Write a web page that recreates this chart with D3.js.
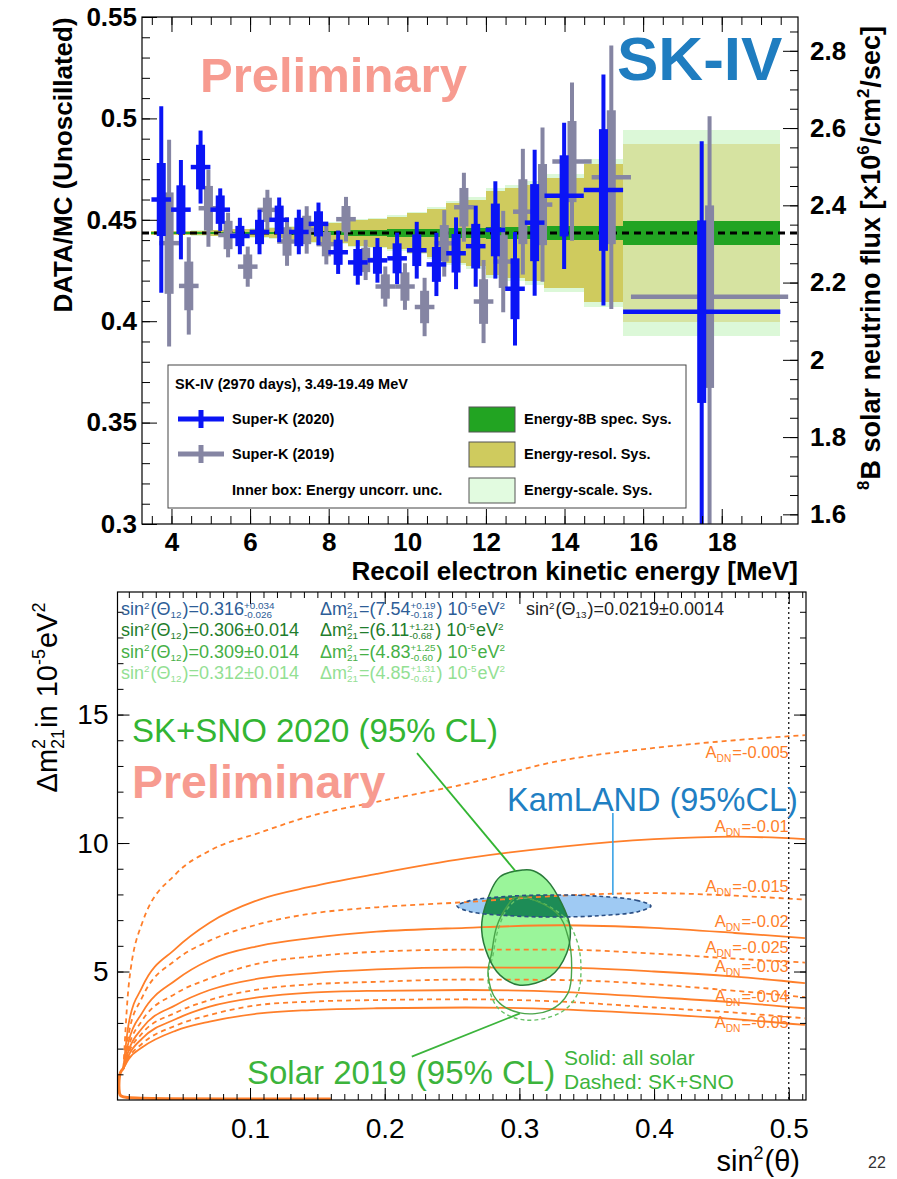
<!DOCTYPE html>
<html lang="en">
<head>
<meta charset="UTF-8">
<title>SK-IV spectrum and solar oscillation contours</title>
<style>
  body { margin: 0; background: #fff; }
  svg { display: block; font-family: "Liberation Sans", Arial, Helvetica, sans-serif; }
</style>
</head>
<body>
<div id="chart"></div>
<script src="https://d3js.org/d3.v7.min.js"></script>
<script>
// ---------- top panel: DATA/MC per recoil energy bin ----------
const binLo = [3.49,3.99,4.49,4.99,5.49,5.99,6.49,6.99,7.49,7.99,8.49,8.99,9.49,9.99,10.49,10.99,11.49,11.99,12.49,12.99,13.49,14.49,15.49];
const binHi = [3.99,4.49,4.99,5.49,5.99,6.49,6.99,7.49,7.99,8.49,8.99,9.49,9.99,10.49,10.99,11.49,11.99,12.49,12.99,13.49,14.49,15.49,19.49];

const sk2020      = [0.460,0.455,0.476,0.455,0.442,0.444,0.450,0.444,0.448,0.434,0.429,0.430,0.431,0.435,0.428,0.4335,0.437,0.445,0.416,0.4486,0.4618,0.4647,0.4047];
const sk2020ErrUp = [0.046,0.0245,0.018,0.0105,0.009,0.011,0.011,0.011,0.0105,0.0107,0.011,0.011,0.0127,0.014,0.0156,0.0177,0.020,0.024,0.028,0.036,0.036,0.057,0.084];
const sk2020ErrDn = [0.046,0.0245,0.018,0.0105,0.009,0.011,0.011,0.011,0.0105,0.0107,0.011,0.011,0.0127,0.014,0.0156,0.0177,0.020,0.024,0.028,0.036,0.036,0.057,0.105];
const sk2020Inner = [0.018,0.012,0.011,0.007,0.005,0.006,0.007,0.007,0.0062,0.0062,0.0066,0.0066,0.0074,0.0078,0.0086,0.0095,0.011,0.013,0.015,0.019,0.020,0.030,0.045];

const sk2019      = [0.4385,0.4174,0.4557,0.4425,0.4269,0.4549,0.4393,0.4450,0.438,0.4503,0.4302,0.4171,0.4171,0.407,0.4384,0.4562,0.4097,0.4294,0.454,0.4575,0.4787,0.471,0.4121];
const sk2019ErrUp = [0.051,0.024,0.019,0.011,0.0099,0.0099,0.012,0.0117,0.010,0.011,0.0099,0.0099,0.0115,0.0144,0.0164,0.017,0.0205,0.025,0.031,0.038,0.039,0.065,0.089];
const sk2019ErrDn = [0.051,0.024,0.019,0.011,0.0099,0.0099,0.012,0.0117,0.010,0.011,0.0099,0.0099,0.0115,0.0144,0.0164,0.017,0.0205,0.025,0.031,0.038,0.039,0.065,0.112];
const sk2019Inner = [0.025,0.012,0.011,0.007,0.006,0.006,0.007,0.007,0.006,0.0065,0.006,0.006,0.007,0.008,0.009,0.0095,0.011,0.013,0.016,0.020,0.020,0.033,0.045];

// systematic bands (half widths around the flat best fit)
const flatFit  = 0.4435;
const specSys  = [0.0005,0.0005,0.0005,0.0005,0.0005,0.0005,0.0007,0.0008,0.001,0.0012,0.0015,0.0017,0.002,0.002,0.0022,0.0025,0.0027,0.003,0.003,0.0032,0.0033,0.0035,0.006];
const resolSys = [0.001,0.001,0.0012,0.0015,0.0018,0.002,0.0025,0.003,0.0045,0.005,0.0064,0.0069,0.008,0.0097,0.012,0.0146,0.0163,0.0205,0.022,0.0237,0.027,0.034,0.044];
const scaleSys = [0.0012,0.0012,0.0014,0.0017,0.002,0.0023,0.0028,0.0033,0.005,0.0055,0.007,0.0076,0.0088,0.0105,0.013,0.0158,0.0176,0.022,0.0238,0.0256,0.029,0.0365,0.051];

const ratioTicks = [0.3,0.35,0.4,0.45,0.5,0.55];
const fluxTicks  = [1.6,1.8,2.0,2.2,2.4,2.6,2.8];
const energyTicks = [4,6,8,10,12,14,16,18];
const fluxPerRatio = 5.25;

// ---------- bottom panel: A_DN iso-lines and contours ----------
const adnValues = ['-0.005','-0.01','-0.015','-0.02','-0.025','-0.03','-0.035','-0.04','-0.045','-0.05'];
const adnDashed = [true,false,true,false,true,false,true,false,true,false];
const adnS = [0.006,0.01,0.02,0.045,0.07,0.107,0.145,0.194,0.26,0.33,0.4,0.46,0.512];
const adnDm2 = [
  [1.23,4.5,6.9,8.8,9.7,10.4,11.05,11.6,12.3,13.2,13.7,14.0,14.2],
  [1.23,3.0,4.4,5.9,6.9,7.8,8.3,8.8,9.4,9.85,10.15,10.25,10.15],
  [1.23,2.6,4.0,5.45,6.2,6.85,7.25,7.5,7.7,7.95,8.05,7.95,7.8],
  [1.23,2.3,3.4,4.67,5.45,6.0,6.3,6.55,6.7,6.8,6.7,6.5,6.3],
  [1.23,2.1,3.1,4.15,4.73,5.32,5.58,5.77,5.85,5.85,5.7,5.5,5.35],
  [1.23,1.95,2.8,3.7,4.28,4.73,4.93,5.08,5.16,5.15,5.0,4.8,4.55],
  [1.23,1.85,2.6,3.4,3.89,4.31,4.5,4.6,4.69,4.67,4.5,4.25,4.0],
  [1.23,1.75,2.4,3.15,3.63,4.0,4.18,4.25,4.28,4.21,4.0,3.8,3.57],
  [1.23,1.65,2.2,2.9,3.31,3.7,3.83,3.89,3.92,3.83,3.6,3.4,3.18],
  [1.23,1.6,2.05,2.7,3.05,3.37,3.5,3.57,3.6,3.53,3.35,3.15,2.92]
];
const adnLabels   = ['-0.005','-0.01','-0.015','-0.02','-0.025','-0.03','-0.04','-0.05'];
const adnLabelDm2 = [13.31,10.43,8.09,6.73,5.72,4.98,3.81,2.80];
const tailS   = [0.006,0.0035,0.0026,0.0026,0.005,0.03,0.1,0.16];
const tailDm2 = [1.23,1.1,0.8,0.2,0.08,0.05,0.04,0.04];

const kamS   = [0.3977,0.388,0.3617,0.3257,0.2897,0.2634,0.2537,0.2634,0.2897,0.3257,0.3617,0.388];
const kamDm2 = [7.55,7.76,7.92,7.98,7.92,7.76,7.55,7.33,7.18,7.12,7.18,7.33];
const sno2020S   = [0.3029,0.2856,0.2745,0.272,0.2769,0.2856,0.3004,0.3227,0.3351,0.3376,0.3314,0.3203,0.3103];
const sno2020Dm2 = [8.95,8.69,7.52,6.61,5.58,4.86,4.47,4.80,5.71,6.74,7.65,8.56,8.92];
const solarAllS   = [0.298,0.3277,0.3361,0.3388,0.3361,0.3227,0.3004,0.2831,0.2767,0.2794,0.2831,0.2906];
const solarAllDm2 = [7.91,7.28,6.36,5.19,4.16,3.5,3.39,3.89,4.94,5.72,6.74,7.52];
const solarSnoS   = [0.3019,0.3316,0.3425,0.3457,0.3428,0.3301,0.3041,0.2841,0.2767,0.2804,0.2841,0.2915];
const solarSnoDm2 = [7.86,7.2,6.23,5.19,4.09,3.39,3.11,3.58,4.67,5.64,6.61,7.47];

const rowSin  = ['0.316','0.306±0.014','0.309±0.014','0.312±0.014'];
const rowDm2  = ['7.54','6.11','4.83','4.85'];
const rowUp   = ['+0.19','+1.21','+1.25','+1.31'];
const rowDn   = ['-0.18','-0.68','-0.60','-0.61'];
const rowColors = ['#2d5d97','#1f7d2c','#46b046','#93e093'];
const sinTicks = [0.1,0.2,0.3,0.4,0.5];
const dmTicks  = [5,10,15];

// ---------- helpers ----------
const W = 897, H = 1179;
const svg = d3.select('#chart').append('svg').attr('width', W).attr('height', H);
svg.append('rect').attr('width', W).attr('height', H).attr('fill', '#fff');

// text made of pieces with super/subscripts; x,y in parent coords
function rich(parent, x, y, parts, o) {
  const g = parent.append('g').attr('fill', o.fill || '#000')
    .attr('font-size', o.size).attr('font-weight', o.weight || 'normal');
  const small = o.size * (o.scr || 0.62);
  const supY = -o.size * (o.supY || 0.42), subY = o.size * (o.subY || 0.24);
  let cx = 0;
  parts.forEach(p => {
    if (typeof p === 'string') {
      const t = g.append('text').attr('x', cx).attr('y', 0).text(p);
      cx += t.node().getComputedTextLength();
    } else {
      let w = 0;
      if (p.sup != null) {
        const t = g.append('text').attr('x', cx).attr('y', supY).attr('font-size', small).text(p.sup);
        w = Math.max(w, t.node().getComputedTextLength());
      }
      if (p.sub != null) {
        const t = g.append('text').attr('x', cx).attr('y', subY).attr('font-size', small).text(p.sub);
        w = Math.max(w, t.node().getComputedTextLength());
      }
      cx += w + 1;
    }
  });
  let dx = 0;
  if (o.anchor === 'end') dx = -cx;
  if (o.anchor === 'middle') dx = -cx / 2;
  g.attr('transform', `translate(${x + dx},${y})`);
  return g;
}

function styleAxis(g, size, weight) {
  g.select('.domain').remove();
  g.selectAll('line').attr('stroke', '#000').attr('stroke-width', 1);
  g.selectAll('text').attr('font-size', size).attr('font-weight', weight)
    .attr('font-family', '"Liberation Sans", Arial, sans-serif').attr('fill', '#000');
}

// ================= TOP PANEL =================
const T = {l: 142, r: 798, t: 17, b: 524};
const xT = d3.scaleLinear().domain([3.25, 19.94]).range([T.l, T.r]);
const yT = d3.scaleLinear().domain([0.3, 0.55]).range([T.b, T.t]);
const yF = d3.scaleLinear().domain([0.3 * fluxPerRatio, 0.55 * fluxPerRatio]).range([T.b, T.t]);

svg.append('clipPath').attr('id', 'clipTop').append('rect')
  .attr('x', T.l).attr('y', T.t).attr('width', T.r - T.l).attr('height', T.b - T.t);
const topG = svg.append('g').attr('clip-path', 'url(#clipTop)');

const bins = d3.range(binLo.length);
function band(arr, color, idx, opacity) {
  topG.append('g').selectAll('rect').data(idx).join('rect')
    .attr('x', i => xT(binLo[i])).attr('width', i => xT(binHi[i]) - xT(binLo[i]))
    .attr('y', i => yT(flatFit + arr[i])).attr('height', i => yT(flatFit - arr[i]) - yT(flatFit + arr[i]))
    .attr('fill', color).attr('fill-opacity', opacity).attr('shape-rendering', 'crispEdges');
}
band(scaleSys, '#dcf8d8', bins, 1);
band(resolSys, '#cfcb5e', bins, 1);
// the wide last bin shows the scale box washed over the resolution box
band(scaleSys, '#dcf8d8', bins.filter(i => binHi[i] - binLo[i] > 2), 0.55);
band(specSys, '#22a422', bins, 1);

topG.append('line').attr('x1', T.l).attr('x2', T.r).attr('y1', yT(flatFit)).attr('y2', yT(flatFit))
  .attr('stroke', '#000').attr('stroke-width', 3).attr('stroke-dasharray', '7,5');

function points(vals, up, dn, inner, shift, color) {
  const g = topG.append('g').attr('fill', color).attr('stroke', color);
  bins.forEach(i => {
    const xc = xT((binLo[i] + binHi[i]) / 2 + shift);
    g.append('line').attr('x1', xc).attr('x2', xc)
      .attr('y1', yT(vals[i] + up[i])).attr('y2', yT(vals[i] - dn[i])).attr('stroke-width', 4);
    g.append('line').attr('x1', xT(binLo[i] + shift)).attr('x2', xT(binHi[i] + shift))
      .attr('y1', yT(vals[i])).attr('y2', yT(vals[i])).attr('stroke-width', 4.5);
    g.append('rect').attr('x', xc - 4.5).attr('width', 9).attr('stroke', 'none')
      .attr('y', yT(vals[i] + inner[i])).attr('height', yT(vals[i] - inner[i]) - yT(vals[i] + inner[i]));
  });
}
points(sk2019, sk2019ErrUp, sk2019ErrDn, sk2019Inner, 0.2, '#8585a3');
points(sk2020, sk2020ErrUp, sk2020ErrDn, sk2020Inner, 0, '#0a14f5');

// frame + ticks
svg.append('rect').attr('x', T.l).attr('y', T.t).attr('width', T.r - T.l).attr('height', T.b - T.t)
  .attr('fill', 'none').attr('stroke', '#000').attr('stroke-width', 1.2);

const minorRatio = d3.range(0.30, 0.5501, 0.01);
styleAxis(svg.append('g').attr('transform', `translate(${T.l},0)`)
  .call(d3.axisLeft(yT).tickValues(minorRatio).tickSize(-8).tickFormat('')), 0, 'bold');
styleAxis(svg.append('g').attr('transform', `translate(${T.l},0)`)
  .call(d3.axisLeft(yT).tickValues(ratioTicks).tickSize(-15).tickPadding(5).tickFormat(d3.format('~g'))), 26, 'bold');

const minorFlux = d3.range(1.6, 2.8876, 0.05);
styleAxis(svg.append('g').attr('transform', `translate(${T.r},0)`)
  .call(d3.axisRight(yF).tickValues(minorFlux).tickSize(-8).tickFormat('')), 0, 'bold');
styleAxis(svg.append('g').attr('transform', `translate(${T.r},0)`)
  .call(d3.axisRight(yF).tickValues(fluxTicks).tickSize(-15).tickPadding(12).tickFormat(d3.format('~g'))), 26, 'bold');

const minorE = d3.range(3.5, 19.91, 0.5);
[T.b, T.t].forEach((yy, k) => {
  const ax = k === 0 ? d3.axisBottom(xT) : d3.axisTop(xT);
  styleAxis(svg.append('g').attr('transform', `translate(0,${yy})`)
    .call(ax.tickValues(minorE).tickSize(-8).tickFormat('')), 0, 'bold');
  const ax2 = k === 0 ? d3.axisBottom(xT) : d3.axisTop(xT);
  styleAxis(svg.append('g').attr('transform', `translate(0,${yy})`)
    .call(ax2.tickValues(energyTicks).tickSize(-15).tickPadding(9)
      .tickFormat(k === 0 ? d3.format('d') : '')), 26, 'bold');
});

svg.append('text').attr('x', T.r).attr('y', 580).attr('text-anchor', 'end')
  .attr('font-size', 26).attr('font-weight', 'bold').text('Recoil electron kinetic energy [MeV]');
svg.append('text').attr('transform', 'translate(72,165) rotate(-90)').attr('text-anchor', 'middle')
  .attr('font-size', 26).attr('font-weight', 'bold').text('DATA/MC (Unoscillated)');
const rLab = svg.append('g').attr('transform', 'translate(880,258) rotate(-90)');
rich(rLab, 0, 0, [{sup: '8'}, 'B solar neutrino flux [×10', {sup: '6'}, ' /cm', {sup: '2'}, '/sec]'],
  {size: 27, weight: 'bold', anchor: 'middle'});

svg.append('text').attr('x', 200).attr('y', 92).attr('font-size', 49).attr('font-weight', 'bold')
  .attr('fill', '#f79b90').text('Preliminary');
svg.append('text').attr('x', 617).attr('y', 80).attr('font-size', 62).attr('font-weight', 'bold')
  .attr('fill', '#1f7dc0').text('SK-IV');

// legend
const lg = svg.append('g');
lg.append('rect').attr('x', 168).attr('y', 365).attr('width', 518).attr('height', 143)
  .attr('fill', '#fff').attr('stroke', '#444').attr('stroke-width', 1);
lg.append('text').attr('x', 175).attr('y', 389).attr('font-size', 14.5).attr('font-weight', 'bold')
  .text('SK-IV (2970 days), 3.49-19.49 MeV');
[[419, '#0a14f5', 'Super-K (2020)'], [454, '#8585a3', 'Super-K (2019)']].forEach(([yy, c, t]) => {
  lg.append('line').attr('x1', 178).attr('x2', 224).attr('y1', yy).attr('y2', yy).attr('stroke', c).attr('stroke-width', 5);
  lg.append('line').attr('x1', 201).attr('x2', 201).attr('y1', yy - 9).attr('y2', yy + 9).attr('stroke', c).attr('stroke-width', 5);
  lg.append('text').attr('x', 232).attr('y', yy + 5).attr('font-size', 14.5).attr('font-weight', 'bold').text(t);
});
lg.append('text').attr('x', 232).attr('y', 495).attr('font-size', 14.5).attr('font-weight', 'bold')
  .text('Inner box: Energy uncorr. unc.');
[[407, '#22a422', 'Energy-8B spec. Sys.'], [442, '#cfcb5e', 'Energy-resol. Sys.'], [478, '#e2fbe0', 'Energy-scale. Sys.']]
  .forEach(([yy, c, t]) => {
    lg.append('rect').attr('x', 469).attr('y', yy).attr('width', 46).attr('height', 25)
      .attr('fill', c).attr('stroke', '#555').attr('stroke-width', 1);
    lg.append('text').attr('x', 524).attr('y', yy + 17).attr('font-size', 14.5).attr('font-weight', 'bold').text(t);
  });

// ================= BOTTOM PANEL =================
const B = {l: 117.5, r: 806, t: 592, b: 1100};
const xB = d3.scaleLinear().domain([0.0016, 0.5128]).range([B.l, B.r]);
const yB = d3.scaleLinear().domain([0, 19.77]).range([B.b, B.t]);

svg.append('clipPath').attr('id', 'clipBot').append('rect')
  .attr('x', B.l).attr('y', B.t).attr('width', B.r - B.l).attr('height', B.b - B.t);
const bot = svg.append('g').attr('clip-path', 'url(#clipBot)');

const closed = d3.line().x(d => xB(d[0])).y(d => yB(d[1])).curve(d3.curveCatmullRomClosed.alpha(0.5));
const open = d3.line().x(d => xB(d[0])).y(d => yB(d[1])).curve(d3.curveMonotoneX);
const zip = (a, b) => a.map((v, i) => [v, b[i]]);

const snoPath = closed(zip(sno2020S, sno2020Dm2));
const kamPath = closed(zip(kamS, kamDm2));
svg.append('clipPath').attr('id', 'clipSno').append('path').attr('d', snoPath);

bot.append('path').attr('d', kamPath).attr('fill', '#9fcaf3');
bot.append('path').attr('d', snoPath).attr('fill', '#9af59a');
bot.append('path').attr('d', kamPath).attr('fill', '#1d8c56').attr('clip-path', 'url(#clipSno)');

// A_DN iso-lines
adnDm2.forEach((row, k) => {
  bot.append('path').attr('d', open(zip(adnS, row))).attr('fill', 'none')
    .attr('stroke', '#ff7f2a').attr('stroke-width', 1.8)
    .attr('stroke-dasharray', adnDashed[k] ? '5,4' : null);
});
bot.append('path').attr('d', d3.line().x(d => xB(d[0])).y(d => yB(d[1])).curve(d3.curveBasis)(zip(tailS, tailDm2)))
  .attr('fill', 'none').attr('stroke', '#ff7f2a').attr('stroke-width', 3);

// contours
bot.append('path').attr('d', closed(zip(solarSnoS, solarSnoDm2))).attr('fill', 'none')
  .attr('stroke', '#66c266').attr('stroke-width', 1.4).attr('stroke-dasharray', '4,3');
bot.append('path').attr('d', closed(zip(solarAllS, solarAllDm2))).attr('fill', 'none')
  .attr('stroke', '#49a449').attr('stroke-width', 1.4);
bot.append('path').attr('d', snoPath).attr('fill', 'none').attr('stroke', '#2a7a3a').attr('stroke-width', 1.5);
bot.append('path').attr('d', kamPath).attr('fill', 'none').attr('stroke', '#2b4f84')
  .attr('stroke-width', 1.6).attr('stroke-dasharray', '4,3');

// s^2 = 0.5 line
bot.append('line').attr('x1', xB(0.5)).attr('x2', xB(0.5)).attr('y1', B.t).attr('y2', B.b)
  .attr('stroke', '#000').attr('stroke-width', 1.2).attr('stroke-dasharray', '2,3');

// leader lines
bot.append('line').attr('x1', xB(0.224)).attr('y1', yB(13.5)).attr('x2', xB(0.2971)).attr('y2', yB(8.91))
  .attr('stroke', '#33b533').attr('stroke-width', 1.8);
bot.append('line').attr('x1', xB(0.2201)).attr('y1', yB(1.69)).attr('x2', xB(0.3004)).attr('y2', yB(3.37))
  .attr('stroke', '#3cb43c').attr('stroke-width', 1.8);
bot.append('line').attr('x1', xB(0.3694)).attr('y1', yB(11.17)).attr('x2', xB(0.3694)).attr('y2', yB(7.98))
  .attr('stroke', '#3aa3e6').attr('stroke-width', 1.6);

// A_DN labels
adnLabels.forEach((v, k) => {
  rich(svg, xB(0.5), yB(adnLabelDm2[k]), ['A', {sub: 'DN'}, '=' + v], {size: 16.5, fill: '#ff7f2a', anchor: 'end'});
});

// frame + ticks
svg.append('rect').attr('x', B.l).attr('y', B.t).attr('width', B.r - B.l).attr('height', B.b - B.t)
  .attr('fill', 'none').attr('stroke', '#000').attr('stroke-width', 1.2);
const minorDm = d3.range(1, 19.5, 1);
const minorSin = d3.range(0.01, 0.5101, 0.01);
[[B.l, d3.axisLeft], [B.r, d3.axisRight]].forEach(([xx, A], k) => {
  styleAxis(svg.append('g').attr('transform', `translate(${xx},0)`)
    .call(A(yB).tickValues(minorDm).tickSize(-6).tickFormat('')), 0, 'normal');
  styleAxis(svg.append('g').attr('transform', `translate(${xx},0)`)
    .call(A(yB).tickValues(dmTicks).tickSize(-12).tickPadding(9).tickFormat(k === 0 ? d3.format('d') : '')), 28, 'normal');
});
[[B.b, d3.axisBottom], [B.t, d3.axisTop]].forEach(([yy, A], k) => {
  styleAxis(svg.append('g').attr('transform', `translate(0,${yy})`)
    .call(A(xB).tickValues(minorSin).tickSize(-6).tickFormat('')), 0, 'normal');
  styleAxis(svg.append('g').attr('transform', `translate(0,${yy})`)
    .call(A(xB).tickValues(sinTicks).tickSize(-12).tickPadding(18).tickFormat(k === 0 ? d3.format('.1f') : '')), 28, 'normal');
});

// header rows (small stacked scripts so neighbouring rows stay apart)
const rowOpt = {size: 18, scr: 0.55, supY: 0.36, subY: 0.17};
rowColors.forEach((c, k) => {
  const yy = 615 + k * 21.3;
  const sinParts = k === 0
    ? ['sin', {sup: '2'}, '(Θ', {sub: '12'}, ')=' + rowSin[k], {sup: '+0.034', sub: '-0.026'}]
    : ['sin', {sup: '2'}, '(Θ', {sub: '12'}, ')=' + rowSin[k]];
  rich(svg, 121, yy, sinParts, Object.assign({fill: c}, rowOpt));
  rich(svg, 320, yy, ['Δm', {sup: '2', sub: '21'}, '=(' + rowDm2[k], {sup: rowUp[k], sub: rowDn[k]}, ') 10', {sup: '-5'}, 'eV', {sup: '2'}],
    Object.assign({fill: c}, rowOpt));
});
rich(svg, 526, 615, ['sin', {sup: '2'}, '(Θ', {sub: '13'}, ')=0.0219±0.0014'], Object.assign({fill: '#222'}, rowOpt));

svg.append('text').attr('x', 132).attr('y', 742).attr('font-size', 33).attr('fill', '#33b533').text('SK+SNO 2020 (95% CL)');
svg.append('text').attr('x', 132).attr('y', 798).attr('font-size', 46.5).attr('font-weight', 'bold')
  .attr('fill', '#f79b90').text('Preliminary');
svg.append('text').attr('x', 507).attr('y', 811).attr('font-size', 32.5).attr('fill', '#1f7fc3').text('KamLAND (95%CL)');
svg.append('text').attr('x', 247).attr('y', 1084).attr('font-size', 33).attr('fill', '#3cb43c').text('Solar 2019 (95% CL)');
svg.append('text').attr('x', 564).attr('y', 1065).attr('font-size', 21).attr('fill', '#3cb43c').text('Solid: all solar');
svg.append('text').attr('x', 564).attr('y', 1089).attr('font-size', 21).attr('fill', '#3cb43c').text('Dashed: SK+SNO');

const yLab = svg.append('g').attr('transform', 'translate(57,697) rotate(-90)');
rich(yLab, 0, 0, ['Δm', {sup: '2', sub: '21'}, ' in 10', {sup: '-5'}, 'eV', {sup: '2'}], {size: 29, anchor: 'middle'});
rich(svg, 800, 1171, ['sin', {sup: '2'}, '(θ)'], {size: 29, anchor: 'end'});
svg.append('text').attr('x', 868).attr('y', 1168).attr('font-size', 16).attr('fill', '#333').text('22');
</script>
</body>
</html>
